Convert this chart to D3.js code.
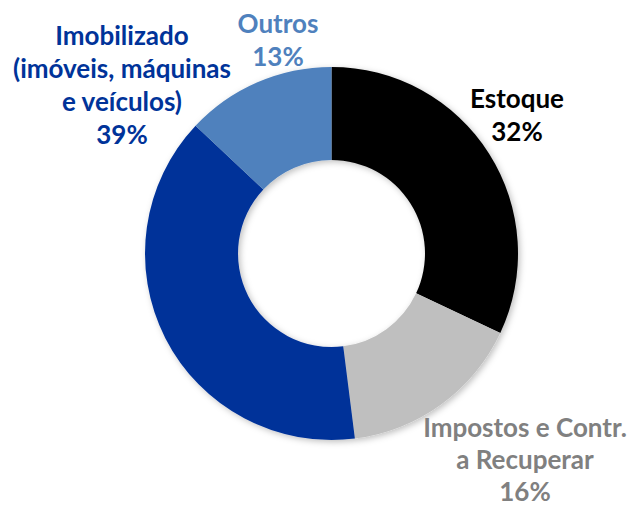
<!DOCTYPE html>
<html><head><meta charset="utf-8">
<script src="https://cdn.jsdelivr.net/npm/d3@7"></script>
<style>html,body{margin:0;padding:0;background:#fff;}svg{display:block;}</style>
</head><body>
<svg id="chart" width="629" height="507"></svg>
<script>
const categories = ["Estoque", "Impostos e Contr. a Recuperar", "Imobilizado (imóveis, máquinas e veículos)", "Outros"];
const values = [32, 16, 39, 13];
const colors = ["#000000", "#bfbfbf", "#003399", "#4f81bd"];
const labelColors = ["#000000", "#808080", "#003399", "#4f81bd"];
const labelLines = [
  ["Estoque", "32%"],
  ["Impostos e Contr.", "a Recuperar", "16%"],
  ["Imobilizado", "(imóveis, máquinas", "e veículos)", "39%"],
  ["Outros", "13%"]
];
// label anchor (center x, first baseline y)
const labelPos = [[517, 108], [525, 437], [122, 45], [278, 33]];

const svg = d3.select("#chart");
const cx = 331.5, cy = 253.5, R = 186.5, r = 93.5;

const defs = svg.append("defs");
const f = defs.append("filter").attr("id","sh").attr("x","-20%").attr("y","-20%").attr("width","140%").attr("height","140%");
f.append("feDropShadow").attr("dx",2).attr("dy",2).attr("stdDeviation",3).attr("flood-color","#000").attr("flood-opacity",0.25);

const pie = d3.pie().sort(null).value(d => d)(values);
const arc = d3.arc().innerRadius(r).outerRadius(R);
const g = svg.append("g").attr("transform", `translate(${cx},${cy})`).attr("filter","url(#sh)");
g.selectAll("path").data(pie).join("path")
  .attr("d", arc).attr("fill", (d,i) => colors[i]);

const lineH = 33;
labelLines.forEach((lines, i) => {
  const t = svg.append("text")
    .attr("x", labelPos[i][0]).attr("y", labelPos[i][1])
    .attr("text-anchor", "middle")
    .attr("font-family", "Lato, sans-serif")
    .attr("font-weight", 700)
    .attr("font-size", 26)
    .attr("fill", labelColors[i]);
  lines.forEach((l, j) => {
    t.append("tspan").attr("x", labelPos[i][0]).attr("y", labelPos[i][1] + j * (i === 1 ? 32 : lineH)).text(l);
  });
});
</script>
</body></html>
